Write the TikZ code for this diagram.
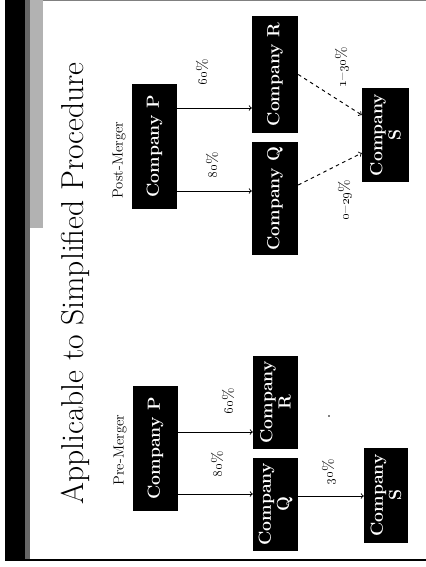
\documentclass[tikz,border=0pt]{standalone}
\usepackage{graphicx}
\tikzset{
  company/.style={rotate=90, fill=black, text=white, inner sep=0pt, align=center,
    font=\fontsize{15}{15.5}\selectfont\bfseries},
  share/.style={rotate=90, font=\fontsize{13}{14}\selectfont},
  owns/.style={->, line width=0.8pt},
  merged/.style={->, line width=0.8pt, dashed},
}
\newcommand{\pct}[1]{\oldstylenums{#1}\%}

\begin{document}
\begin{tikzpicture}[x=0.03cm, y=-0.03cm]
    \useasboundingbox (0,0) rectangle (426,567);

    % Border
    \fill[black] (5,0) rectangle (25,560);
    \fill[black!60] (25,0) rectangle (30,560);
    \fill[black!30] (30,0) rectangle (43,228);
    \draw[black!50, line width=1pt] (43,0.5) -- (426,0.5);
    \draw[line width=1pt] (5,560) -- (426,560);

    % Title
    \node[rotate=90, font=\fontsize{27}{30}\selectfont] (title) at (75,283.5) {Applicable to Simplified Procedure};

    % Pre-merger
    \node[rotate=90, font=\fontsize{12.5}{14}\selectfont] (pre) at (120,450) {Pre-Merger};
    \node[company, minimum width=3.75cm, minimum height=1.35cm] (Ppre) at (155.5,448.5) {Company P};
    \node[company, minimum width=2.79cm, minimum height=1.35cm] (Rpre) at (275.5,402.5) {Company\\R};
    \node[company, minimum width=2.79cm, minimum height=1.35cm] (Qpre) at (275.5,504.5) {Company\\Q};
    \node[company, minimum width=2.85cm, minimum height=1.32cm] (Spre) at (386,495.5) {Company\\S};

    \coordinate (pr) at (0,432);
    \coordinate (pq) at (0,494);
    \coordinate (qs) at (0,496);
    \draw[owns] (Ppre.south |- pr) -- (Rpre.north |- pr);
    \draw[owns] (Ppre.south |- pq) -- (Qpre.north |- pq);
    \draw[owns] (Qpre.south |- qs) -- (Spre.north |- qs);

    \node[share] (lpr) at (228,401) {\pct{60}};
    \node[share] (lpq) at (217,464) {\pct{80}};
    \node[share] (lqs) at (329,472) {\pct{30}};
    \fill (329,416) circle (0.7pt);

    % Post-merger
    \node[rotate=90, font=\fontsize{12.5}{14}\selectfont] (post) at (119,160) {Post-Merger};
    \node[company, minimum width=3.75cm, minimum height=1.35cm] (Ppost) at (154.5,146.5) {Company P};
    \node[company, minimum width=3.51cm, minimum height=1.38cm] (Rpost) at (275,74.5) {Company R};
    \node[company, minimum width=3.39cm, minimum height=1.38cm] (Qpost) at (275,198.5) {Company Q};
    \node[company, minimum width=2.82cm, minimum height=1.41cm] (Spost) at (385.5,135) {Company\\S};

    \coordinate (qr) at (0,108);
    \coordinate (qq) at (0,191);
    \coordinate (qx) at (0,185);
    \coordinate (s1) at (0,115);
    \coordinate (s2) at (0,153);
    \draw[owns] (Ppost.south |- qr) -- (Rpost.north |- qr);
    \draw[owns] (Ppost.south |- qq) -- (Qpost.north |- qq);
    \draw[merged] (Rpost.south) -- (Spost.north |- s1);
    \draw[merged] (Qpost.south |- qx) -- (Spost.north |- s2);

    \node[share] (mpr) at (202,72) {\pct{60}};
    \node[share] (mpq) at (212,165) {\pct{80}};
    \node[share] (mrs) at (342,67) {\oldstylenums{1}--\pct{30}};
    \node[share] (mqs) at (345,200) {\oldstylenums{0}--\pct{29}};

\end{tikzpicture}
\end{document}
